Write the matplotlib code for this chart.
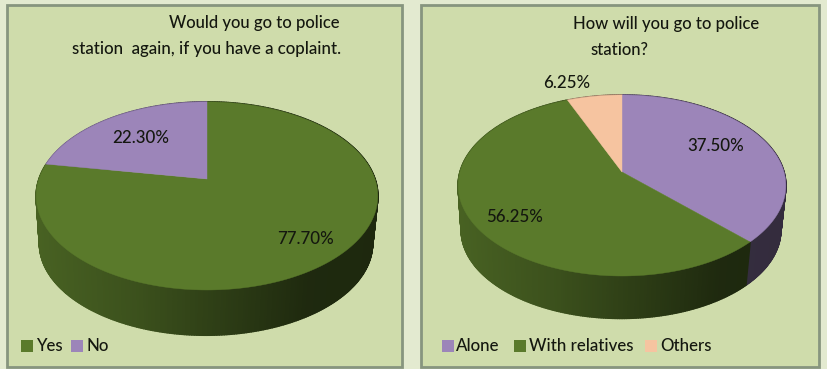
import numpy as np
import matplotlib
matplotlib.use("Agg")
import matplotlib.pyplot as plt
from matplotlib.patches import Polygon, Rectangle
from matplotlib.collections import PolyCollection

plt.rcParams['font.family'] = ['Lato', 'DejaVu Sans']
plt.rcParams['font.weight'] = 'medium'

# survey answers
left_labels = ["Yes", "No"]
left_values = [77.70, 22.30]
left_title = ["Would you go to police", "station  again, if you have a coplaint."]

right_labels = ["Alone", "With relatives", "Others"]
right_values = [37.50, 56.25, 6.25]
right_title = ["How will you go to police", "station?"]

GREEN = "#5a7a2b"
PURPLE = "#9c85b9"
PEACH = "#f6c4a0"
BACK = "#cfdcab"
FRAME = "#87957f"
TEXT = "#14170f"

fig = plt.figure(figsize=(8.27, 3.69), dpi=100, facecolor="#e3ead0")
ax = fig.add_axes([0, 0, 1, 1])
ax.set_xlim(0, 827)
ax.set_ylim(369, 0)
ax.axis("off")


def project(theta, cx, cy, R, Ry, k, shrink=1.0, drop=0.0):
    # theta is clockwise from 12 o'clock, tilted circle with a bit of perspective
    u = np.sin(theta)
    v = np.cos(theta)
    w = 1 + k * v
    return cx + shrink * R * u / w, cy + drop - shrink * Ry * v / w


def side_shade(color, frac):
    # side wall gets darker from left to right
    rgb = np.array(matplotlib.colors.to_rgb(color))
    f = np.interp(frac, [0, 0.3, 0.55, 0.8, 1], [0.80, 0.66, 0.50, 0.34, 0.33])
    return tuple(rgb * f)


def pie3d(values, colors, start, cx, cy, R, Ry, k, depth, shrink):
    fracs = np.array(values) / sum(values)
    edges = start + np.concatenate([[0], np.cumsum(fracs)]) * 2 * np.pi
    left = cx - R * 1.02
    width = 2 * R * 1.02
    for a, b, c in zip(edges[:-1], edges[1:], colors):
        t = np.linspace(a, b, max(int((b - a) * 80), 3))
        x0, y0 = project(t, cx, cy, R, Ry, k)
        x1, y1 = project(t, cx - 1, cy, R, Ry, k, shrink, depth)
        quads = []
        cols = []
        for i in range(len(t) - 1):
            quads.append([(x0[i], y0[i]), (x0[i + 1], y0[i + 1]), (x1[i + 1], y1[i + 1]), (x1[i], y1[i])])
            cols.append(side_shade(c, (x0[i] - left) / width))
        ax.add_collection(PolyCollection(quads, facecolors=cols, edgecolors=cols, linewidths=1.2, zorder=2))
    for a, b, c in zip(edges[:-1], edges[1:], colors):
        t = np.linspace(a, b, max(int((b - a) * 80), 3))
        x0, y0 = project(t, cx, cy, R, Ry, k)
        pts = np.column_stack([np.r_[cx, x0], np.r_[cy, y0]])
        ax.add_patch(Polygon(pts, closed=True, facecolor=c, edgecolor=c, linewidth=0.3, zorder=3))


def legend(items, colors, xs, y):
    for (name, c, (bx, tx)) in zip(items, colors, xs):
        ax.add_patch(Rectangle((bx, y - 6), 12, 12, facecolor=c, edgecolor="none", zorder=4))
        ax.text(tx, y, name, fontsize=12.2, color=TEXT, va="center", ha="left", zorder=5)


# left panel
ax.add_patch(Rectangle((7, 5), 395, 362, facecolor=BACK, edgecolor=FRAME, linewidth=2, zorder=1))
ax.text(169, 23, left_title[0], fontsize=12, color=TEXT, va="center", zorder=5)
ax.text(72, 49, left_title[1], fontsize=12.2, color=TEXT, va="center", zorder=5)
# starts at the top going clockwise: yes then no
pie3d(left_values, [GREEN, PURPLE], 0.0, 207, 179, 168, 91, 0.18, 48, 0.975)
ax.text(141, 138, "%.2f%%" % left_values[1], fontsize=12.2, color=TEXT, ha="center", va="center", zorder=5)
ax.text(305, 239, "%.2f%%" % left_values[0], fontsize=12.2, color=TEXT, ha="center", va="center", zorder=5)
legend(left_labels, [GREEN, PURPLE], [(21, 36), (71, 87)], 346)

# right panel
ax.add_patch(Rectangle((421, 5), 398, 362, facecolor=BACK, edgecolor=FRAME, linewidth=2, zorder=1))
ax.text(573, 24, right_title[0], fontsize=12, color=TEXT, va="center", zorder=5)
ax.text(590, 50, right_title[1], fontsize=12, color=TEXT, va="center", zorder=5)
pie3d(right_values, [PURPLE, GREEN, PEACH], 0.0, 622, 172, 162, 88.5, 0.149, 45, 0.975)
ax.text(716, 146, "%.2f%%" % right_values[0], fontsize=12.2, color=TEXT, ha="center", va="center", zorder=5)
ax.text(515, 217, "%.2f%%" % right_values[1], fontsize=12.2, color=TEXT, ha="center", va="center", zorder=5)
ax.text(567, 83, "%.2f%%" % right_values[2], fontsize=12.2, color=TEXT, ha="center", va="center", zorder=5)
legend(right_labels, [PURPLE, GREEN, PEACH], [(442, 456), (514, 529), (645, 660)], 346)

fig.savefig("out.png", dpi=100, facecolor=fig.get_facecolor())
